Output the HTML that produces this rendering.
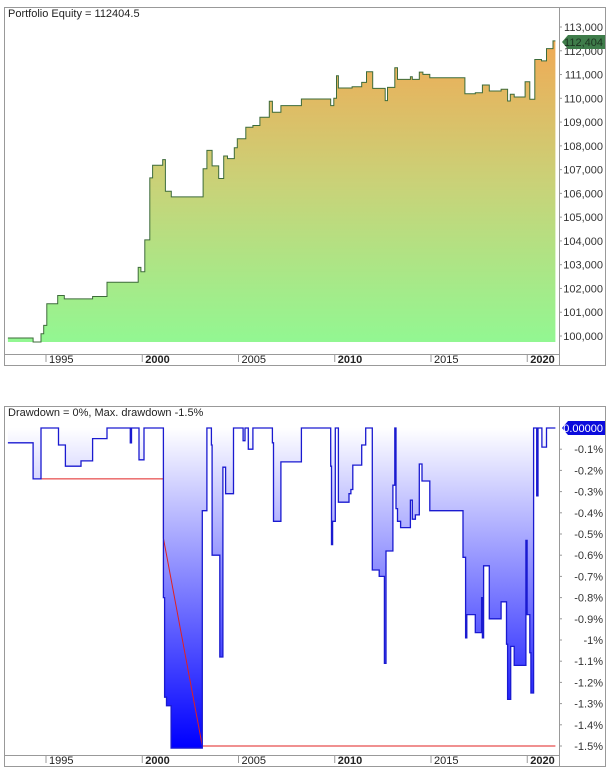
<!DOCTYPE html>
<html><head><meta charset="utf-8"><style>
body{margin:0;background:#fff;}
svg{display:block;font-family:"Liberation Sans",sans-serif;}
</style></head><body>
<svg id="c" width="609" height="774" viewBox="0 0 609 774">
<defs>
<linearGradient id="gEq" x1="0" y1="27" x2="0" y2="342" gradientUnits="userSpaceOnUse">
<stop offset="0" stop-color="#f4a652"/><stop offset="0.5" stop-color="#c9d278"/><stop offset="1" stop-color="#92f792"/></linearGradient>
<linearGradient id="gDd" x1="0" y1="428" x2="0" y2="746" gradientUnits="userSpaceOnUse">
<stop offset="0" stop-color="#ffffff"/><stop offset="1" stop-color="#0000ff"/></linearGradient>
</defs>
<rect x="4.5" y="7.5" width="601" height="358" fill="none" stroke="#999"/>
<rect x="4.5" y="406.5" width="601" height="360" fill="none" stroke="#999"/>
<line x1="559.5" y1="8" x2="559.5" y2="365" stroke="#999"/>
<line x1="559.5" y1="407" x2="559.5" y2="766" stroke="#999"/>
<line x1="5" y1="354.5" x2="559" y2="354.5" stroke="#999"/>
<line x1="5" y1="755.5" x2="559" y2="755.5" stroke="#999"/>
<text x="8" y="17" font-size="11" fill="#222">Portfolio Equity = 112404.5</text>
<text x="8" y="416" font-size="11" fill="#222">Drawdown = 0%, Max. drawdown -1.5%</text>
<g id="topg"></g><g id="botg"></g><g id="axesg"></g>
</svg>
<script>
const eqYears=[1993.02,1994.33,1994.74,1994.88,1995.04,1995.61,1995.95,1997.42,1998.17,1999.79,1999.93,2000.13,2000.39,2000.54,2001.06,2001.20,2001.51,2003.16,2003.36,2003.63,2003.97,2004.23,2004.43,2004.78,2004.94,2005.38,2005.75,2006.11,2006.60,2006.76,2007.20,2008.27,2009.79,2009.95,2010.09,2010.19,2010.90,2011.40,2011.65,2011.97,2012.62,2012.74,2013.12,2013.26,2013.93,2014.03,2014.39,2014.58,2014.94,2016.76,2017.30,2017.67,2018.03,2018.64,2018.98,2019.12,2019.32,2019.89,2020.13,2020.39,2020.74,2021.00,2021.34];
const eqValues=[99916,99749,100098,100446,101353,101702,101562,101660,102260,102887,102706,104044,106652,107182,107420,106087,105850,107036,107810,107155,106625,107573,107462,107922,108298,108786,108856,109205,109874,109414,109693,109972,109693,109999,110948,110432,110488,110669,111115,110418,109902,110460,111283,110795,110907,110795,111102,111004,110865,110195,110237,110558,110307,110377,109888,110167,110056,110697,109958,111631,111575,112092,112413];
const ddYears=[1993.02,1994.33,1994.74,1995.65,1996.01,1996.82,1997.42,1998.17,1999.38,1999.44,1999.83,2000.09,2001.10,2001.16,2001.26,2001.36,2001.50,2003.12,2003.36,2003.59,2003.63,2004.03,2004.19,2004.33,2004.74,2005.24,2005.34,2005.51,2005.75,2006.76,2006.82,2007.20,2008.27,2009.79,2009.83,2009.89,2010.03,2010.19,2010.74,2010.84,2010.94,2011.40,2011.61,2011.95,2012.31,2012.58,2012.66,2013.02,2013.12,2013.18,2013.26,2013.42,2013.93,2014.03,2014.19,2014.39,2014.53,2014.94,2016.66,2016.80,2016.86,2017.30,2017.63,2017.67,2017.73,2018.03,2018.64,2018.92,2018.98,2019.14,2019.32,2019.93,2019.99,2020.13,2020.19,2020.33,2020.49,2020.56,2020.76,2021.00];
const ddValues=[-0.07,-0.24,0,-0.08,-0.18,-0.155,-0.05,0,-0.07,0,-0.15,0,-0.80,-1.27,-1.31,-1.31,-1.51,-0.39,0,-0.08,-0.60,-1.08,-0.185,-0.31,0,-0.06,0,-0.10,0,-0.07,-0.44,-0.16,0,-0.18,-0.55,-0.44,0,-0.35,-0.31,-0.29,-0.175,-0.08,0,-0.67,-0.70,-1.11,-0.58,-0.27,0,-0.38,-0.44,-0.47,-0.34,-0.43,-0.41,-0.17,-0.25,-0.39,-0.61,-0.99,-0.88,-0.965,-0.80,-0.99,-0.65,-0.90,-0.82,-1.02,-1.28,-1.03,-1.12,-0.53,-0.88,-1.06,-1.25,0,-0.32,0,-0.09,0];
const endYear=2021.46;
const eqTicks=[100000,101000,102000,103000,104000,105000,106000,107000,108000,109000,110000,111000,112000,113000];
const ddTicks=[-0.1,-0.2,-0.3,-0.4,-0.5,-0.6,-0.7,-0.8,-0.9,-1,-1.1,-1.2,-1.3,-1.4,-1.5];
const yearTicks=[1995,2000,2005,2010,2015,2020];
const maxDdYears=[1994.74,2001.10,2001.10,2003.12,2021.46];
const maxDdValues=[-0.24,-0.24,-0.52,-1.5,-1.5];

const NS='http://www.w3.org/2000/svg';
const X=y=>46+(y-1995)*19.25;
const YE=v=>336-(v-100000)*0.02377;
const YD=d=>428+(-d)*212;
function mk(tag,attrs,parent){const e=document.createElementNS(NS,tag);for(const k in attrs)e.setAttribute(k,attrs[k]);parent.appendChild(e);return e;}
function stepPath(xs,vs,f){let d='M'+X(xs[0]).toFixed(1)+','+f(vs[0]).toFixed(1);for(let i=1;i<xs.length;i++){d+='H'+X(xs[i]).toFixed(1)+'V'+f(vs[i]).toFixed(1);}d+='H'+X(endYear).toFixed(1);return d;}
const topG=document.getElementById('topg'),botG=document.getElementById('botg'),axG=document.getElementById('axesg');
const eqLine=stepPath(eqYears,eqValues,YE);
let p=mk('path',{d:eqLine+'V342H'+X(eqYears[0]).toFixed(1)+'Z',fill:'url(#gEq)'},topG);


p=mk('path',{d:eqLine,fill:'none',stroke:'#3d6b3a','stroke-width':1},topG);


const ddLine=stepPath(ddYears,ddValues,YD);
p=mk('path',{d:ddLine+'V428H'+X(ddYears[0]).toFixed(1)+'Z',fill:'url(#gDd)'},botG);


let md='';for(let i=0;i<maxDdYears.length;i++)md+=(i?'L':'M')+X(maxDdYears[i]).toFixed(1)+','+YD(maxDdValues[i]).toFixed(1);
p=mk('path',{d:md,fill:'none',stroke:'#e02020','stroke-width':1},botG);


p=mk('path',{d:ddLine,fill:'none',stroke:'#1a1ad0','stroke-width':1.3},botG);


eqTicks.forEach(v=>{const y=YE(v);mk('line',{x1:559,y1:y,x2:562,y2:y,stroke:'#999'},axG);
let t=mk('text',{x:603,y:y+4,'font-size':11,fill:'#333','text-anchor':'end'},axG);t.textContent=v.toLocaleString('en-US');

});
ddTicks.forEach(v=>{const y=YD(v);mk('line',{x1:559,y1:y,x2:562,y2:y,stroke:'#999'},axG);
let t=mk('text',{x:603,y:y+4,'font-size':11,fill:'#333','text-anchor':'end'},axG);t.textContent=(Math.round(v*10)/10)+'%';

});
yearTicks.forEach(yr=>{const x=X(yr);const bold=yr%10===0;
[[354,359],[755,760]].forEach(([ly,ty])=>{mk('line',{x1:x,y1:ly,x2:x,y2:ly+8,stroke:'#999'},axG);
let t=mk('text',{x:x+3,y:ty+4,'font-size':11,fill:'#222','font-weight':bold?'bold':'normal'},axG);t.textContent=yr;

});});
let g=mk('path',{d:'M562,42 L568,35 H605 V49 H568 Z',fill:'#3e7c4a'},axG);


let tt=mk('text',{x:603,y:46,'font-size':11,fill:'#1c3320','text-anchor':'end'},axG);tt.textContent='112,404';


g=mk('path',{d:'M562,428 L568,421 H605 V435 H568 Z',fill:'#0a0adc'},axG);


tt=mk('text',{x:603,y:432,'font-size':11,fill:'#fff','text-anchor':'end'},axG);tt.textContent='0.00000';


</script>
</body></html>
